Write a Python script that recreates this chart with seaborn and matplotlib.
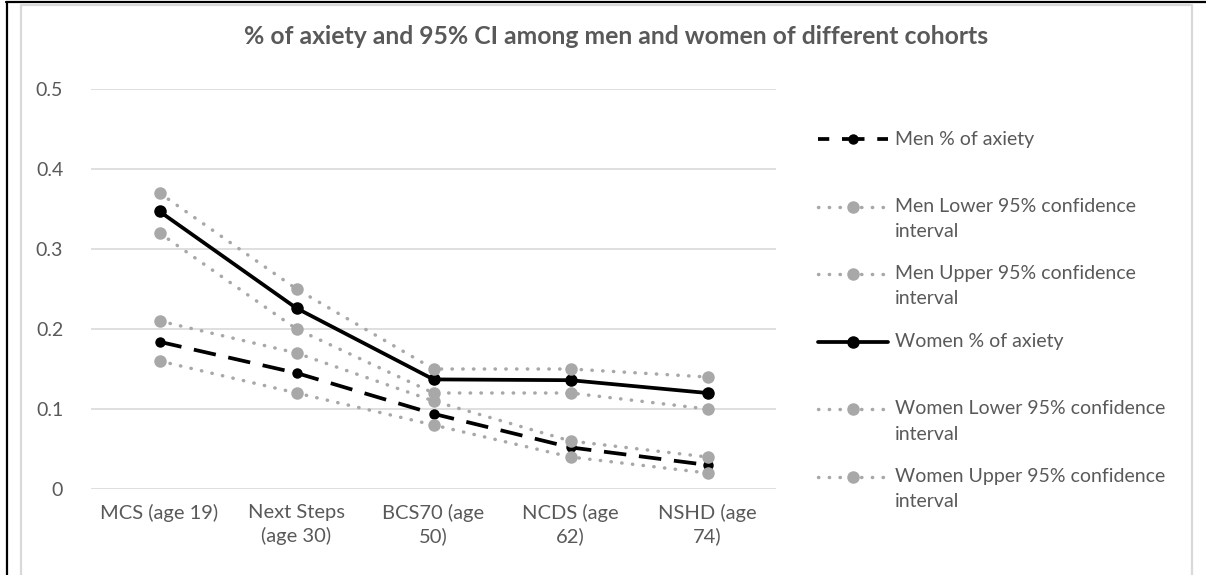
import numpy as np
import pandas as pd
import seaborn as sns
import matplotlib.pyplot as plt
from matplotlib.ticker import FuncFormatter

# ==========================================
# DATA
# ==========================================

cohorts = ["MCS (age 19)", "Next Steps\n(age 30)", "BCS70 (age\n50)",
           "NCDS (age\n62)", "NSHD (age\n74)"]

men_pct = [0.184, 0.145, 0.094, 0.052, 0.030]
men_lower = [0.16, 0.12, 0.08, 0.04, 0.02]
men_upper = [0.21, 0.17, 0.11, 0.06, 0.04]
women_pct = [0.347, 0.226, 0.137, 0.136, 0.120]
women_lower = [0.32, 0.20, 0.12, 0.12, 0.10]
women_upper = [0.37, 0.25, 0.15, 0.15, 0.14]

series_names = ["Men % of axiety",
                "Men Lower 95% confidence\ninterval",
                "Men Upper 95% confidence\ninterval",
                "Women % of axiety",
                "Women Lower 95% confidence\ninterval",
                "Women Upper 95% confidence\ninterval"]
series_values = [men_pct, men_lower, men_upper, women_pct, women_lower, women_upper]

TITLE = "% of axiety and 95% CI among men and women of different cohorts"

# ==========================================
# STYLES
# ==========================================

TEXT_COLOR = "#595959"
GRID_COLOR = "#d9d9d9"
GRAY = "#a8a8a8"

dot_style = dict(color=GRAY, lw=2.5, linestyle=(0, (0.1, 3.0)),
                 dash_capstyle="round", marker="o", markersize=9,
                 markeredgewidth=0)
styles = [
    dict(color="black", lw=2.7, linestyle=(0, (6, 3.4)), marker="o",
         markersize=7.5, markeredgewidth=0),
    dot_style,
    dot_style,
    dict(color="black", lw=2.7, linestyle="-", marker="o",
         markersize=9, markeredgewidth=0),
    dot_style,
    dot_style,
]

sns.set_theme(style="white")
plt.rcParams["font.family"] = ["Lato", "DejaVu Sans"]

W, H = 1206, 575
fig = plt.figure(figsize=(W / 100, H / 100), dpi=100)

# plot area in pixels: x 91..776, y 89..489
ax = fig.add_axes([91 / W, (H - 489) / H, (776 - 91) / W, 400 / H])

x_pos = np.arange(len(cohorts))
for i, (name, vals) in enumerate(zip(series_names, series_values)):
    sns.lineplot(x=x_pos, y=vals, ax=ax, zorder=3 + i, **styles[i])

ax.set_xlim(-0.5, len(cohorts) - 0.5)
ax.set_ylim(0, 0.5)
ax.set_yticks(np.arange(0, 0.51, 0.1))
ax.yaxis.set_major_formatter(FuncFormatter(lambda v, p: f"{v:g}"))
ax.set_xticks(x_pos)
ax.set_xticklabels(cohorts, linespacing=1.35)
ax.grid(axis="y", color=GRID_COLOR, lw=1.2)
ax.grid(axis="x", visible=False)
for s in ax.spines.values():
    s.set_visible(False)
ax.tick_params(axis="y", length=0, pad=20, labelsize=14, labelcolor=TEXT_COLOR)
ax.tick_params(axis="x", length=0, pad=11, labelsize=14.5, labelcolor=TEXT_COLOR)
ax.set_xlabel("")
ax.set_ylabel("")

# ==========================================
# OVERLAY: frame, title, legend (pixel coordinates)
# ==========================================

ov = fig.add_axes([0, 0, 1, 1], zorder=10)
ov.set_xlim(0, W)
ov.set_ylim(H, 0)
ov.axis("off")
ov.patch.set_alpha(0)

# outer black frame and inner gray chart border
ov.plot([6, W], [2, 2], color="black", lw=1.6)
ov.plot([6.5, 6.5], [2, H], color="black", lw=1.6)
ov.plot([21, 21, 1192, 1192], [H, 4.5, 4.5, H], color=GRID_COLOR, lw=1.6)

ov.text(616, 37, TITLE, ha="center", va="center", fontsize=17.8,
        fontweight="bold", color=TEXT_COLOR)

# legend entries, equally spaced, handle aligned with first line
leg_top = 139
leg_step = 67.5
for i, name in enumerate(series_names):
    y = leg_top + i * leg_step
    st = dict(styles[i])
    if i == 0:
        # shift the dash pattern so a dash runs through the marker
        st["linestyle"] = (3.0, (6, 3.4))
    ov.plot([818, 853, 888], [y, y, y], markevery=[1], **st)
    lines = name.split("\n")
    for j, line in enumerate(lines):
        ov.text(895, y + j * 25, line, ha="left", va="center",
                fontsize=14, color=TEXT_COLOR)

fig.savefig("out.png", dpi=100)
